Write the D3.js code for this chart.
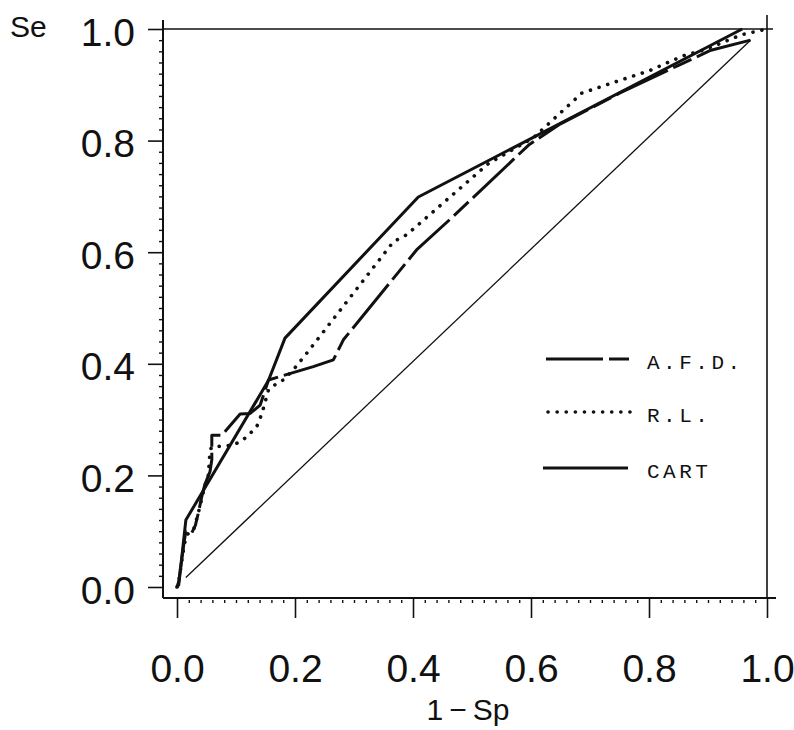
<html>
<head>
<script src="https://cdn.jsdelivr.net/npm/d3@7"></script>
<style>
  body { margin: 0; background: #fff; }
</style>
</head>
<body>
<svg width="794" height="730"></svg>
<script>
// tick values / labels
var majorTicks = [0, 0.2, 0.4, 0.6, 0.8, 1.0];
var tickLabels = ["0.0", "0.2", "0.4", "0.6", "0.8", "1.0"];
var seriesNames = ["A.F.D.", "R.L.", "CART"];

// A.F.D. (1-Sp, Se)
var afdX = [0, 0.003, 0.012, 0.015, 0.025, 0.031, 0.036, 0.042, 0.047, 0.056, 0.059, 0.059, 0.076, 0.107, 0.124, 0.141, 0.155, 0.231, 0.265, 0.282, 0.406, 0.468, 0.596, 0.65, 0.75, 0.85, 0.905, 0.972];
var afdY = [0, 0.01, 0.08, 0.1, 0.097, 0.11, 0.132, 0.162, 0.183, 0.207, 0.228, 0.272, 0.272, 0.31, 0.311, 0.326, 0.371, 0.395, 0.407, 0.443, 0.604, 0.664, 0.792, 0.83, 0.885, 0.935, 0.962, 0.98];

// R.L.
var rlX = [0, 0.003, 0.01, 0.015, 0.022, 0.028, 0.036, 0.047, 0.053, 0.056, 0.059, 0.093, 0.107, 0.118, 0.135, 0.144, 0.155, 0.169, 0.18, 0.197, 0.22, 0.367, 0.389, 0.528, 0.604, 0.686, 0.745, 0.8, 0.858, 0.892, 0.958, 1.0];
var rlY = [0, 0.01, 0.06, 0.09, 0.1, 0.102, 0.132, 0.18, 0.2, 0.245, 0.251, 0.254, 0.26, 0.269, 0.287, 0.311, 0.353, 0.365, 0.371, 0.389, 0.419, 0.619, 0.631, 0.759, 0.805, 0.885, 0.906, 0.925, 0.952, 0.962, 0.99, 1.0];

// CART
var cartX = [0, 0.003, 0.015, 0.155, 0.183, 0.409, 0.958];
var cartY = [0, 0.004, 0.12, 0.37, 0.446, 0.699, 1.0];

// chance line
var diagX = [0.015, 0.972];
var diagY = [0.017, 0.98];

var svg = d3.select("svg");
var ink = "#111";
var sans = "'Liberation Sans', Arial, sans-serif";

var x = d3.scaleLinear().domain([0, 1]).range([177, 767]);
var y = d3.scaleLinear().domain([0, 1]).range([587, 29]);

var minorTicks = d3.range(1, 50).map(function(i){ return i / 50; })
  .filter(function(v){ return Math.round(v * 50) % 10 !== 0; });

// x axis, major ticks + labels
var gx = svg.append("g").attr("transform", "translate(0,598)")
  .call(d3.axisBottom(x).tickValues(majorTicks).tickSize(20)
    .tickFormat(function(d, i){ return tickLabels[i]; }));
gx.select(".domain").remove();
gx.selectAll("line").attr("stroke", ink).attr("stroke-width", 1.6);
gx.selectAll("text").attr("y", 84).attr("dy", 0)
  .attr("font-size", 39).attr("font-family", sans).attr("fill", ink);

// x minor ticks
var gxm = svg.append("g").attr("transform", "translate(0,600)")
  .call(d3.axisBottom(x).tickValues(minorTicks).tickSize(3).tickFormat(""));
gxm.select(".domain").remove();
gxm.selectAll("line").attr("stroke", ink).attr("stroke-width", 1.4);

// y axis
var gy = svg.append("g").attr("transform", "translate(163,0)")
  .call(d3.axisLeft(y).tickValues(majorTicks).tickSize(15)
    .tickFormat(function(d, i){ return tickLabels[i]; }));
gy.select(".domain").remove();
gy.selectAll("line").attr("stroke", ink).attr("stroke-width", 1.6);
gy.selectAll("text").attr("x", -28).attr("dy", 16)
  .attr("font-size", 39).attr("font-family", sans).attr("fill", ink);

var gym = svg.append("g").attr("transform", "translate(162,0)")
  .call(d3.axisLeft(y).tickValues(minorTicks).tickSize(3).tickFormat(""));
gym.select(".domain").remove();
gym.selectAll("line").attr("stroke", ink).attr("stroke-width", 1.4);

// frame
svg.append("line").attr("x1", 163).attr("y1", 20).attr("x2", 163).attr("y2", 598)
  .attr("stroke", ink).attr("stroke-width", 2);
svg.append("line").attr("x1", 163).attr("y1", 598).attr("x2", 776).attr("y2", 598)
  .attr("stroke", ink).attr("stroke-width", 2);
svg.append("line").attr("x1", 163).attr("y1", y(1)).attr("x2", 773).attr("y2", y(1))
  .attr("stroke", ink).attr("stroke-width", 1.6);
svg.append("line").attr("x1", x(1)).attr("y1", 15).attr("x2", x(1)).attr("y2", 598)
  .attr("stroke", ink).attr("stroke-width", 1.6);

// axis titles
svg.append("text").attr("x", 10).attr("y", 37).text("Se")
  .attr("font-size", 30).attr("font-family", sans).attr("fill", ink);
svg.append("text").attr("x", 468).attr("y", 720).attr("text-anchor", "middle")
  .text("1\u2009\u2212\u2009Sp")
  .attr("font-size", 30).attr("font-family", sans).attr("fill", ink);

var line = d3.line().x(function(d){ return x(d[0]); }).y(function(d){ return y(d[1]); });

// diagonal
svg.append("path").datum(d3.zip(diagX, diagY)).attr("d", line)
  .attr("fill", "none").attr("stroke", ink).attr("stroke-width", 1.3);

var styles = [
  {dash: "57,6,20,6", cap: "butt"},
  {dash: "0.1,9", cap: "round"},
  {dash: null, cap: "butt"}
];
var series = [d3.zip(afdX, afdY), d3.zip(rlX, rlY), d3.zip(cartX, cartY)];

series.forEach(function(s, i){
  svg.append("path").datum(s).attr("d", line)
    .attr("fill", "none").attr("stroke", ink)
    .attr("stroke-width", i == 1 ? 3.6 : 3)
    .attr("stroke-linejoin", "round")
    .attr("stroke-linecap", styles[i].cap)
    .attr("stroke-dasharray", styles[i].dash);
});

// legend
var legY = [359, 412, 468];
var legX1 = [546, 548, 543], legX2 = [630, 633, 628];
seriesNames.forEach(function(n, i){
  svg.append("line").attr("x1", legX1[i]).attr("x2", legX2[i])
    .attr("y1", legY[i]).attr("y2", legY[i])
    .attr("stroke", ink).attr("stroke-width", i == 1 ? 3.6 : 3)
    .attr("stroke-linecap", styles[i].cap)
    .attr("stroke-dasharray", styles[i].dash);
  svg.append("text").attr("x", 647).attr("y", legY[i] + 10).text(n)
    .attr("font-size", 21).attr("letter-spacing", 3.5)
    .attr("font-family", "'Liberation Mono', 'Courier New', monospace")
    .attr("fill", ink);
});
</script>
</body>
</html>
